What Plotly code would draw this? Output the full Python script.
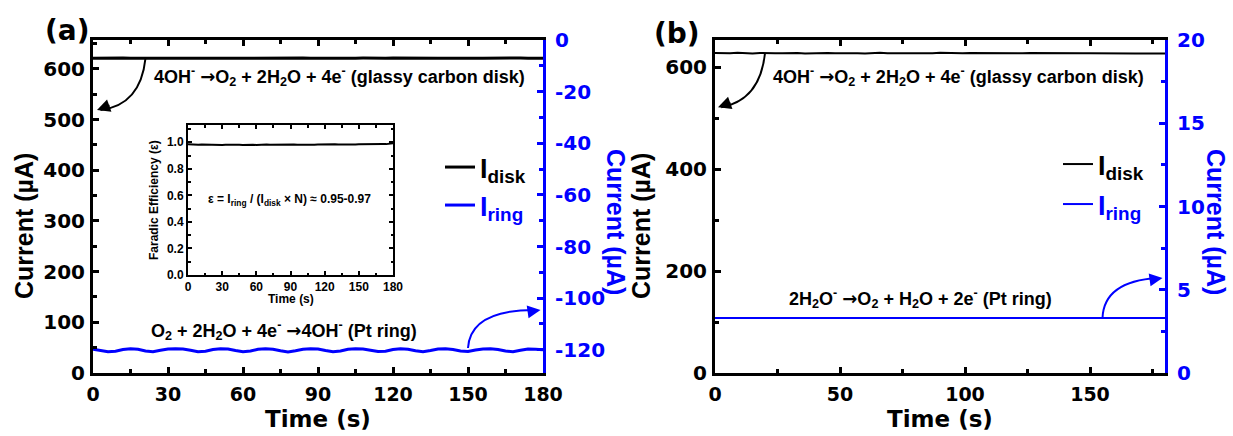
import plotly.graph_objects as go

W, H = 1233, 436

# ---------------- data ----------------
t = [i * 3 for i in range(61)]  # 0..180 s

disk_a = [621.0, 621.4, 620.8, 621.2, 621.6, 621.0, 620.7, 621.3, 621.5, 620.9,
          621.1, 621.6, 621.2, 620.8, 621.0, 621.4, 621.3, 620.9, 621.1, 621.5,
          621.2, 620.8, 621.0, 621.3, 621.6, 621.1, 620.9, 621.2, 621.4, 621.0,
          620.8, 621.3, 621.5, 621.1, 620.9, 621.2, 621.4, 621.0, 620.7, 621.1,
          621.5, 621.2, 620.9, 621.0, 621.3, 621.4, 621.0, 620.8, 621.2, 621.5,
          621.1, 620.9, 621.0, 621.3, 621.2, 620.8, 621.1, 621.4, 621.2, 620.9, 621.0]

ring_a = [-119.8, -120.3, -120.8, -120.6, -119.9, -119.6, -119.8, -120.5, -120.8, -120.2,
          -119.7, -119.6, -119.7, -120.2, -120.8, -120.6, -119.9, -119.6, -119.7, -120.3,
          -120.8, -120.5, -119.8, -119.6, -119.8, -120.4, -120.9, -120.4, -119.8, -119.6,
          -119.7, -120.3, -120.8, -120.5, -119.8, -119.6, -119.7, -120.2, -120.7, -120.6,
          -119.9, -119.6, -119.8, -120.4, -120.8, -120.3, -119.7, -119.6, -119.9, -120.5,
          -120.7, -120.1, -119.7, -119.6, -119.9, -120.5, -120.8, -120.2, -119.7, -119.8, -120.0]

eff = [0.985, 0.983, 0.981, 0.982, 0.984, 0.983, 0.980, 0.981, 0.983, 0.982,
       0.980, 0.981, 0.982, 0.984, 0.983, 0.981, 0.980, 0.982, 0.983, 0.981,
       0.980, 0.982, 0.984, 0.983, 0.981, 0.982, 0.983, 0.981, 0.980, 0.982,
       0.983, 0.984, 0.982, 0.981, 0.983, 0.984, 0.982, 0.981, 0.983, 0.984,
       0.983, 0.982, 0.984, 0.985, 0.983, 0.982, 0.984, 0.985, 0.984, 0.983,
       0.985, 0.986, 0.984, 0.985, 0.986, 0.985, 0.986, 0.987, 0.986, 0.988, 0.992]

disk_b = [627.5, 626.8, 627.2, 627.9, 627.0, 626.6, 627.4, 627.8, 626.9, 627.1,
          627.6, 627.3, 626.7, 627.0, 627.7, 627.4, 626.8, 627.2, 627.9, 627.1,
          626.6, 627.3, 627.8, 627.0, 626.9, 627.5, 627.6, 627.0, 626.7, 627.2,
          627.8, 627.3, 626.8, 627.0, 627.6, 627.4, 626.9, 627.1, 627.7, 627.2,
          626.6, 627.0, 627.5, 627.3, 626.8, 627.1, 627.6, 627.0, 626.5, 626.8,
          627.2, 626.9, 626.4, 626.7, 627.0, 626.6, 626.3, 626.7, 626.9, 626.5, 626.6]

ring_b = [3.30, 3.31, 3.30, 3.29, 3.30, 3.31, 3.30, 3.30, 3.29, 3.30,
          3.31, 3.30, 3.30, 3.29, 3.30, 3.31, 3.30, 3.30, 3.29, 3.30,
          3.31, 3.30, 3.30, 3.29, 3.30, 3.31, 3.30, 3.30, 3.29, 3.30,
          3.31, 3.30, 3.30, 3.29, 3.30, 3.31, 3.30, 3.30, 3.29, 3.30,
          3.31, 3.30, 3.30, 3.29, 3.30, 3.31, 3.30, 3.30, 3.29, 3.30,
          3.31, 3.30, 3.30, 3.29, 3.30, 3.31, 3.30, 3.30, 3.29, 3.30, 3.30]

xticks_a = [0, 30, 60, 90, 120, 150, 180]
yticks_a_left = [0, 100, 200, 300, 400, 500, 600]
yticks_a_right = [0, -20, -40, -60, -80, -100, -120]
yticks_a_right_text = ["0", "-20", "-40", "-60", "-80", "-100", "-120"]
xticks_b = [0, 50, 100, 150]
yticks_b_left = [0, 200, 400, 600]
yticks_b_right = [0, 5, 10, 15, 20]
xticks_in = [0, 30, 60, 90, 120, 150, 180]
yticks_in = [0.0, 0.2, 0.4, 0.6, 0.8, 1.0]

BLUE = "#0000ff"
TICKFONT = dict(family="DejaVu Sans", size=20, color="black", weight="bold")
XTICKFONT = dict(family="DejaVu Sans", size=19, color="black", weight="bold")
BTICKFONT = dict(family="DejaVu Sans", size=20, color=BLUE, weight="bold")


def px(x):
    return x / W


def py(y):
    return 1 - y / H


fig = go.Figure()

fig.add_trace(go.Scatter(x=t, y=disk_a, mode="lines", line=dict(color="black", width=3),
                         name="I<sub>disk</sub>", xaxis="x", yaxis="y", legend="legend"))
fig.add_trace(go.Scatter(x=t, y=ring_a, mode="lines", line=dict(color=BLUE, width=3),
                         name='<span style="color:#0000ff">I<sub>ring</sub></span>',
                         xaxis="x", yaxis="y2", legend="legend3"))
fig.add_trace(go.Scatter(x=t, y=disk_b, mode="lines", line=dict(color="black", width=2),
                         name="I<sub>disk</sub>", xaxis="x2", yaxis="y3", legend="legend2"))
fig.add_trace(go.Scatter(x=t, y=ring_b, mode="lines", line=dict(color=BLUE, width=2),
                         name='<span style="color:#0000ff">I<sub>ring</sub></span>',
                         xaxis="x2", yaxis="y4", legend="legend4"))
fig.add_trace(go.Scatter(x=t, y=eff, mode="lines", line=dict(color="black", width=2),
                         showlegend=False, xaxis="x3", yaxis="y5"))

common = dict(showgrid=False, zeroline=False, showline=True, ticks="inside",
              ticklen=6, tickwidth=3, linewidth=3, automargin=False)
inset_common = dict(showgrid=False, zeroline=False, showline=True, ticks="inside", ticklen=4,
                    tickwidth=1.5, linewidth=2, linecolor="black", tickcolor="black",
                    mirror="ticks", automargin=False,
                    tickfont=dict(family="Arial", size=12, color="black", weight="bold"))

dom_a = [px(93), px(543)]
dom_b = [px(715), px(1165)]
dom_y = [py(373), py(40)]

LEGFONT = dict(family="Arial", size=27, color="black", weight="bold")


def leg(xp, yp):
    return dict(x=px(xp), y=py(yp), xanchor="left", yanchor="top",
                bgcolor="rgba(0,0,0,0)", font=LEGFONT)


fig.update_layout(
    width=W, height=H, margin=dict(l=0, r=0, t=0, b=0, autoexpand=False),
    plot_bgcolor="white", paper_bgcolor="white",
    xaxis=dict(**common, domain=dom_a, anchor="y", range=[0, 180], tickvals=xticks_a,
               linecolor="black", tickcolor="black", mirror="ticks", tickfont=XTICKFONT,
               ticklabelstandoff=2,
               minor=dict(ticks="inside", dtick=15, ticklen=4, tickwidth=3, tickcolor="black")),
    yaxis=dict(**common, domain=dom_y, anchor="x", range=[0, 657], tickvals=yticks_a_left,
               linecolor="black", tickcolor="black", tickfont=TICKFONT, ticklabelstandoff=1,
               minor=dict(ticks="inside", dtick=50, ticklen=4, tickwidth=3, tickcolor="black")),
    yaxis2=dict(**common, overlaying="y", anchor="x", side="right", range=[-129, 0],
                tickvals=yticks_a_right, ticktext=yticks_a_right_text,
                linecolor=BLUE, tickcolor=BLUE, tickfont=BTICKFONT, ticklabelstandoff=5,
                minor=dict(ticks="inside", dtick=10, ticklen=4, tickwidth=3, tickcolor=BLUE)),
    xaxis2=dict(**common, domain=dom_b, anchor="y3", range=[0, 180], tickvals=xticks_b,
                linecolor="black", tickcolor="black", mirror="ticks", tickfont=XTICKFONT,
                ticklabelstandoff=2,
                minor=dict(ticks="inside", dtick=25, ticklen=4, tickwidth=3, tickcolor="black")),
    yaxis3=dict(**common, domain=dom_y, anchor="x2", range=[0, 653], tickvals=yticks_b_left,
                linecolor="black", tickcolor="black", tickfont=TICKFONT, ticklabelstandoff=1,
                minor=dict(ticks="inside", dtick=100, ticklen=4, tickwidth=3, tickcolor="black")),
    yaxis4=dict(**common, overlaying="y3", anchor="x2", side="right", range=[0, 20],
                tickvals=yticks_b_right, linecolor=BLUE, tickcolor=BLUE,
                tickfont=BTICKFONT, ticklabelstandoff=5,
                minor=dict(ticks="inside", dtick=2.5, ticklen=4, tickwidth=3, tickcolor=BLUE)),
    xaxis3=dict(**inset_common, domain=[px(188), px(393)], anchor="y5", range=[0, 180],
                tickvals=xticks_in, ticklabelstandoff=0,
                minor=dict(ticks="inside", dtick=15, ticklen=2.5, tickwidth=1.5, tickcolor="black")),
    yaxis5=dict(**inset_common, domain=[py(275), py(125)], anchor="x3", range=[0, 1.13],
                tickvals=yticks_in, tickformat=".1f", ticklabelstandoff=0,
                minor=dict(ticks="inside", dtick=0.1, ticklen=2.5, tickwidth=1.5, tickcolor="black")),
    legend=leg(440, 143),
    legend3=leg(440, 181),
    legend2=leg(1058, 140),
    legend4=leg(1058, 180),
    showlegend=True,
)

ARROW = '<span style="font-family:DejaVu Sans">\u2192</span>'
LABEL = dict(family="Arial", size=18, color="black", weight="bold")
TITLE = dict(family="DejaVu Sans", size=23, color="black", weight="bold")
VTITLE = dict(family="Arial", size=25, color="black", weight="bold")

ann = []
# panel labels
ann.append(dict(text="(a)", x=px(67), y=py(30), font=dict(family="DejaVu Sans", size=28, color="black", weight="bold")))
ann.append(dict(text="(b)", x=px(677), y=py(33), font=dict(family="DejaVu Sans", size=28, color="black", weight="bold")))
# axis titles
ann.append(dict(text="Time (s)", x=px(318), y=py(419), font=TITLE))
ann.append(dict(text="Time (s)", x=px(940), y=py(419), font=TITLE))
ann.append(dict(text="Current (\u00b5A)", x=px(24), y=py(226), textangle=-90, font=VTITLE))
ann.append(dict(text="Current (\u00b5A)", x=px(616), y=py(222), textangle=90,
                font=dict(VTITLE, color=BLUE)))
ann.append(dict(text="Current (\u00b5A)", x=px(641), y=py(226), textangle=-90, font=VTITLE))
ann.append(dict(text="Current (\u00b5A)", x=px(1216), y=py(222), textangle=90,
                font=dict(VTITLE, color=BLUE)))
# inset titles
ann.append(dict(text="Faradic Efficiency (\u03b5)", x=px(154), y=py(200), textangle=-90,
                font=dict(family="Arial", size=12, color="black", weight="bold")))
ann.append(dict(text="Time (s)", x=px(291), y=py(299),
                font=dict(family="Arial", size=12, color="black", weight="bold")))
ann.append(dict(text="\u03b5 = I<sub>ring</sub> / (I<sub>disk</sub> \u00d7 N) \u2248 0.95-0.97",
                x=px(289), y=py(200),
                font=dict(family="Arial", size=12, color="black", weight="bold")))
# reaction labels
disk_txt = ("4OH<sup>-</sup> " + ARROW + "O<sub>2</sub> + 2H<sub>2</sub>O + 4e<sup>-</sup>"
            " (glassy carbon disk)")
ann.append(dict(text=disk_txt, x=px(152), y=py(76), xanchor="left", font=LABEL))
ann.append(dict(text=disk_txt, x=px(771), y=py(76), xanchor="left", font=LABEL))
ann.append(dict(text="O<sub>2</sub> + 2H<sub>2</sub>O + 4e<sup>-</sup> " + ARROW + "4OH<sup>-</sup> (Pt ring)",
                x=px(149), y=py(330), xanchor="left", font=LABEL))
ann.append(dict(text="2H<sub>2</sub>O<sup>-</sup> " + ARROW + "O<sub>2</sub> + H<sub>2</sub>O + 2e<sup>-</sup> (Pt ring)",
                x=px(787), y=py(298), xanchor="left", font=LABEL))

for a in ann:
    a.setdefault("xref", "paper")
    a.setdefault("yref", "paper")
    a.setdefault("showarrow", False)
    a.setdefault("xanchor", "center")
    a.setdefault("yanchor", "middle")

# arrowheads for the curved arrows
heads = [
    dict(x=1.6, y=519, xref="x", yref="y", ax=14, ay=-5, arrowcolor="black"),
    dict(x=179, y=-104.6, xref="x", yref="y2", ax=-14, ay=2, arrowcolor=BLUE),
    dict(x=1.2, y=521, xref="x2", yref="y3", ax=14, ay=-5, arrowcolor="black"),
    dict(x=179, y=5.7, xref="x2", yref="y4", ax=-14, ay=2, arrowcolor=BLUE),
]
for h in heads:
    h.update(text="", showarrow=True, arrowhead=2, arrowsize=1.3, arrowwidth=2, standoff=0)
    ann.append(h)

fig.update_layout(annotations=ann)

# curved arrow bodies
fig.add_shape(type="path", xref="x", yref="y", path="M 21,621 Q 19,528 3,519",
              line=dict(color="black", width=2))
fig.add_shape(type="path", xref="x", yref="y2", path="M 150,-119.3 Q 151,-104.5 177,-104.6",
              line=dict(color=BLUE, width=2))
fig.add_shape(type="path", xref="x2", yref="y3", path="M 20,627 Q 18,535 2.5,521",
              line=dict(color="black", width=2))
fig.add_shape(type="path", xref="x2", yref="y4", path="M 155,3.3 Q 155.6,5.5 177,5.7",
              line=dict(color=BLUE, width=2))

fig.write_html("out.html")
